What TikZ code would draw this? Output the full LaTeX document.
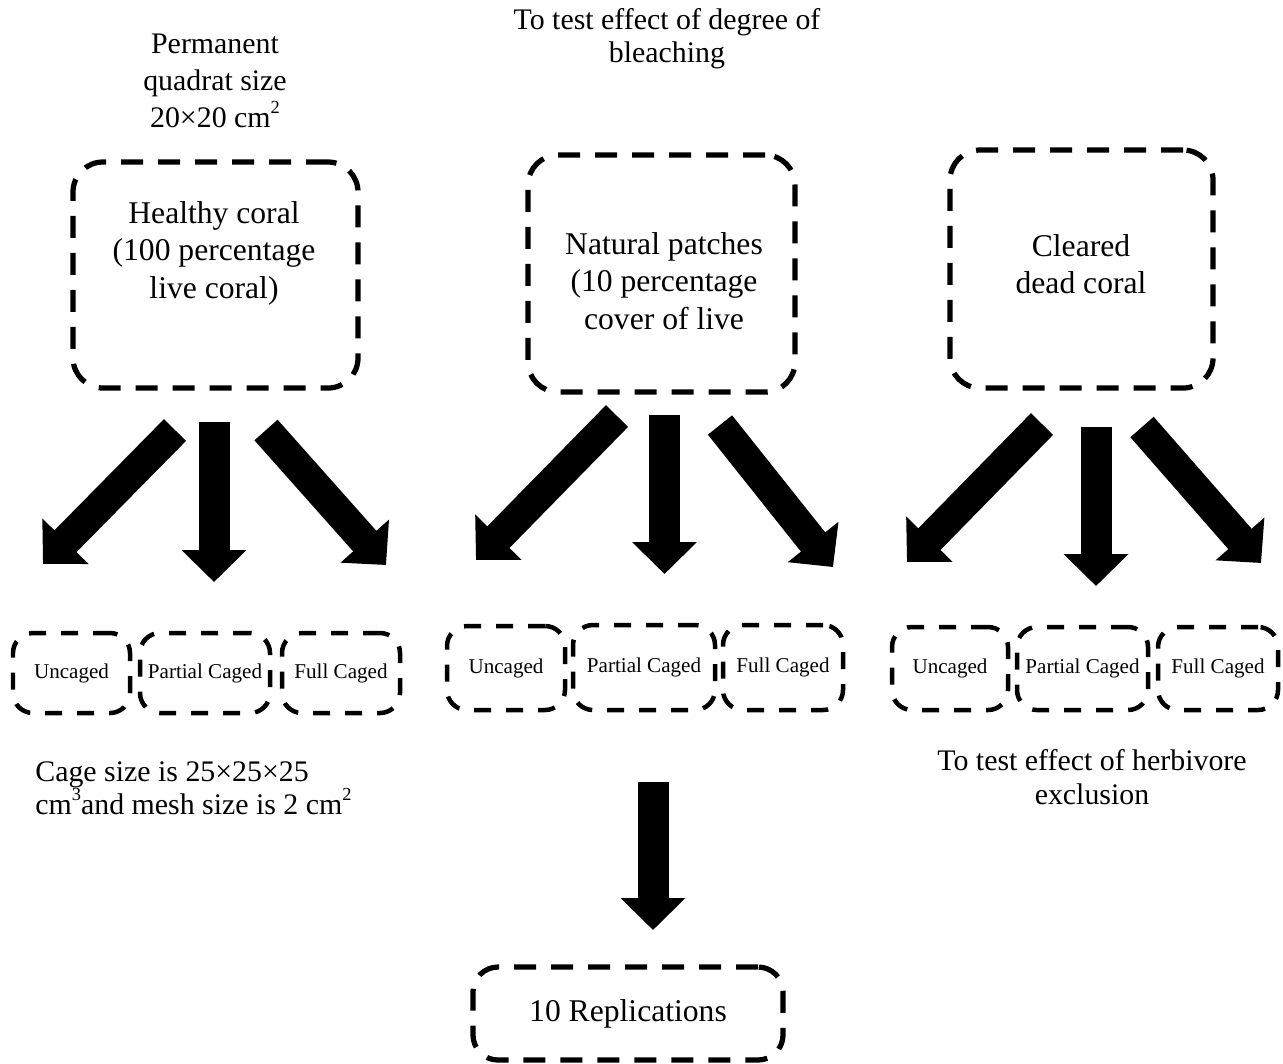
\documentclass[tikz,border=0pt]{standalone}
\usepackage{fontspec}
\setmainfont{Liberation Serif}
\def\pxu{0.02cm}
\newcommand\smallsup[1]{\raisebox{0.48em}{\fontsize{10.5}{10.5}\selectfont #1}}
\usetikzlibrary{arrows.meta}

\begin{document}
\begin{tikzpicture}[x=\pxu, y=-\pxu]
		\tikzstyle{bigbox}=[draw, line width=0.105cm, dash pattern=on 0.44cm off 0.3cm, rounded corners=0.6cm, inner sep=0pt]
		\tikzstyle{smallbox}=[draw, line width=0.09cm, dash pattern=on 0.34cm off 0.3cm, rounded corners=0.4cm, inner sep=0pt, font=\fontsize{12}{14}\selectfont]
		\tikzstyle{boxtext}=[align=center, inner sep=0pt, font=\fontsize{18}{21.3}\selectfont]
		\tikzstyle{annot}=[align=center, inner sep=0pt, font=\fontsize{17}{19}\selectfont]
		\tikzstyle{bigarrow}=[line width=0.62cm, -{Triangle[length=0.64cm, width=1.26cm]}]
		
		\useasboundingbox (0,0) rectangle (1283,1063);
		
		% Draw the three treatment boxes
		\node[bigbox, minimum width=285*\pxu, minimum height=226*\pxu] (healthy) at (215.5,275) {};
		\node[bigbox, minimum width=267*\pxu, minimum height=237*\pxu] (natural) at (661.5,273.5) {};
		\node[bigbox, minimum width=263*\pxu, minimum height=238*\pxu] (cleared) at (1081.5,269) {};
		\node[boxtext] (healthy-t) at (214,253) {Healthy coral\\(100 percentage\\live coral)};
		\node[boxtext] (natural-t) at (664,281) {Natural patches\\(10 percentage\\cover of live};
		\node[boxtext] (cleared-t) at (1081,264) {Cleared\\dead coral};
		
		% Draw the cage boxes
		\foreach \name / \x / \y / \w / \h / \txt in {
			h-U/71.5/673/117/80/Uncaged, h-P/205/673/130/80/Partial Caged, h-F/341/673/118/80/Full Caged,
			n-U/506/668/118/84/Uncaged, n-P/644/667.5/142/85/Partial Caged, n-F/783/667.5/120/85/Full Caged,
			c-U/950/668.5/116/83/Uncaged, c-P/1082.5/668.5/131/83/Partial Caged, c-F/1218/668.5/120/83/Full Caged}
		\node[smallbox, minimum width=\w*\pxu, minimum height=\h*\pxu] (\name) at (\x,\y) {\txt};
		
		% Replications
		\node[bigbox, rounded corners=0.5cm, minimum width=310*\pxu, minimum height=93*\pxu, font=\fontsize{18}{21.3}\selectfont] (rep) at (628,1013.5) {10 Replications};
		
		% Draw the arrows
		\foreach \name / \sx / \sy / \ex / \ey in {
			h1/175/430/43/564, h2/214/422/214/582, h3/266/430/386/565,
			n1/617/416/476/560, n2/664.5/415/664.5/574, n3/720/425/833/567,
			c1/1042/424/907/562, c2/1096/427/1096/586, c3/1142/427/1261/563,
			r/653/782/653/930}
		{
			\coordinate (\name-s) at (\sx,\sy);
			\coordinate (\name-e) at (\ex,\ey);
			\draw[bigarrow] (\name-s) -- (\name-e);
		}
		
		% Annotations
		\node[annot, font=\fontsize{17}{21}\selectfont] (quadrat) at (215,81) {Permanent\\quadrat size\\20×20 cm\smallsup{2}};
		\node[annot] (bleach) at (667,39) {To test effect of degree of\\bleaching};
		\node[annot, align=left, anchor=west] (cage) at (35,788) {Cage size is 25×25×25\\cm\smallsup{3}and mesh size is 2 cm\smallsup{2}};
		\node[annot] (herbivore) at (1092,777) {To test effect of herbivore\\exclusion};
	
	\end{tikzpicture}
\end{document}
